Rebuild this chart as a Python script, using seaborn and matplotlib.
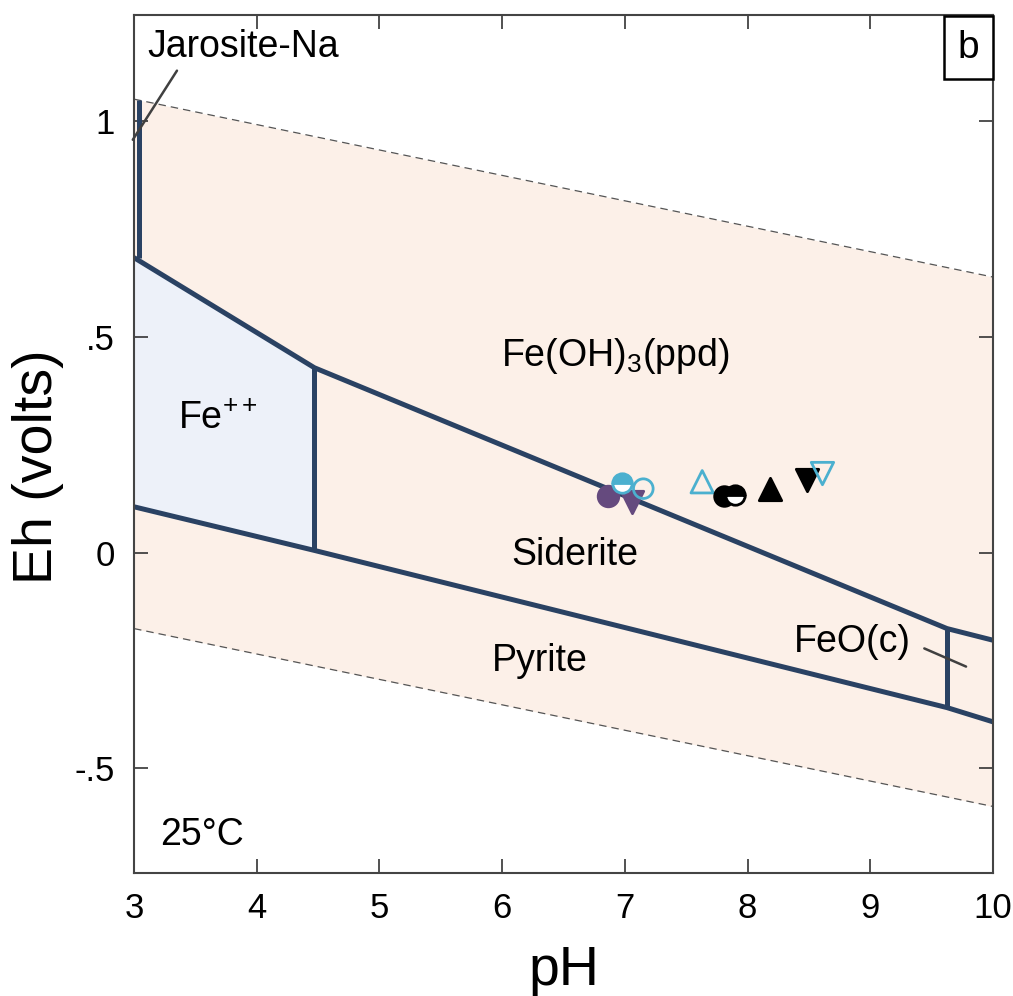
import numpy as np
import pandas as pd
import matplotlib
matplotlib.use("Agg")
import matplotlib.pyplot as plt
import seaborn as sns

# ---- water stability limits (Eh at pH 3 and pH 10) ----
water_ph = [3.0, 10.0]
water_upper = [1.050, 0.638]
water_lower = [-0.176, -0.588]

# ---- stability-field boundaries (pH, Eh) ----
jarosite_ph = [3.04, 3.04]
jarosite_eh = [1.049, 0.683]
feiii_upper_ph = [3.0, 4.47, 9.625, 10.0]
feiii_upper_eh = [0.683, 0.428, -0.176, -0.203]
fe2_sid_ph = [4.47, 4.47]
fe2_sid_eh = [0.428, 0.005]
pyrite_ph = [3.0, 4.47, 9.625, 10.0]
pyrite_eh = [0.106, 0.005, -0.359, -0.392]
sid_feo_ph = [9.625, 9.625]
sid_feo_eh = [-0.176, -0.359]

# ---- Fe++ field outline ----
fe2_field_ph = [3.0, 4.47, 4.47, 3.0]
fe2_field_eh = [0.683, 0.428, 0.005, 0.106]

# ---- measured samples ----
samp_ph = [6.86, 7.06, 7.15, 7.63, 7.81, 8.18, 8.48, 8.61]
samp_eh = [0.130, 0.118, 0.148, 0.164, 0.130, 0.148, 0.169, 0.183]
samp_kind = ["purple_circle", "purple_down", "cyan_open_circle", "cyan_open_up",
             "black_circle", "black_up", "black_down", "cyan_open_down"]
half_ph = [6.98, 7.90]
half_eh = [0.162, 0.134]
half_color = ["#4bb0cf", "black"]

CYAN = "#4bb0cf"
PURPLE = "#654a7e"
NAVY = "#2a4263"

sns.set_theme(style="ticks")
plt.rcParams["font.family"] = ["Liberation Sans", "DejaVu Sans"]
plt.rcParams["mathtext.fontset"] = "custom"
plt.rcParams["mathtext.rm"] = "Liberation Sans"
plt.rcParams["mathtext.it"] = "Liberation Sans:italic"
plt.rcParams["text.color"] = "black"
plt.rcParams["axes.labelcolor"] = "black"
plt.rcParams["xtick.labelcolor"] = "black"
plt.rcParams["ytick.labelcolor"] = "black"

fig = plt.figure(figsize=(10.13, 9.96), dpi=100)
ax = fig.add_axes([0.1323, 0.1235, 0.848, 0.8615])

# water stability band
ax.fill_between(water_ph, water_lower, water_upper, color="#fcf0e8", lw=0, zorder=0)
ax.plot(water_ph, water_upper, color="#555555", lw=0.9, ls=(0, (6, 4)), zorder=1)
ax.plot(water_ph, water_lower, color="#555555", lw=0.9, ls=(0, (6, 4)), zorder=1)

# Fe++ field
ax.fill(fe2_field_ph, fe2_field_eh, color="#edf1f9", lw=0, zorder=0.5)

# boundaries
for xs, ys in [(jarosite_ph, jarosite_eh), (feiii_upper_ph, feiii_upper_eh),
               (fe2_sid_ph, fe2_sid_eh), (pyrite_ph, pyrite_eh), (sid_feo_ph, sid_feo_eh)]:
    ax.plot(xs, ys, color=NAVY, lw=3.6, solid_capstyle="butt", solid_joinstyle="round", zorder=2)

# samples
df = pd.DataFrame({"pH": samp_ph, "Eh": samp_eh, "kind": samp_kind})
styles = {
    "purple_circle": dict(marker="o", fc=PURPLE, ec=PURPLE, s=220),
    "purple_down": dict(marker="v", fc=PURPLE, ec=PURPLE, s=260),
    "cyan_open_circle": dict(marker="o", fc="none", ec=CYAN, s=200),
    "cyan_open_up": dict(marker="^", fc="none", ec=CYAN, s=260),
    "black_circle": dict(marker="o", fc="black", ec="black", s=200),
    "black_up": dict(marker="^", fc="black", ec="black", s=260),
    "black_down": dict(marker="v", fc="black", ec="black", s=260),
    "cyan_open_down": dict(marker="v", fc="none", ec=CYAN, s=260),
}
for kind, st in styles.items():
    sub = df[df["kind"] == kind]
    sns.scatterplot(data=sub, x="pH", y="Eh", ax=ax, marker=st["marker"], s=st["s"],
                    facecolor=st["fc"], edgecolor=st["ec"], linewidth=2, zorder=4, legend=False)
for x, y, c in zip(half_ph, half_eh, half_color):
    ax.plot([x], [y], marker="o", ms=14, fillstyle="top", markerfacecolor=c,
            markerfacecoloralt="white", markeredgecolor=c, mew=2, ls="none", zorder=5)

# labels
fs = 27
ax.text(6.92, 0.455, "Fe(OH)$_3$(ppd)", fontsize=fs, ha="center", va="center", zorder=6)
ax.text(3.68, 0.31, "Fe$^{++}$", fontsize=fs, ha="center", va="center", zorder=6)
ax.text(6.59, -0.005, "Siderite", fontsize=fs, ha="center", va="center", zorder=6)
ax.text(6.31, -0.252, "Pyrite", fontsize=fs, ha="center", va="center", zorder=6)
ax.text(8.85, -0.208, "FeO(c)", fontsize=fs, ha="center", va="center", zorder=6)
ax.text(3.89, 1.17, "Jarosite-Na", fontsize=fs, ha="center", va="center", zorder=6)
ax.text(3.55, -0.653, "25°C", fontsize=fs, ha="center", va="center", zorder=6)
ax.plot([3.35, 2.99], [1.116, 0.956], color="#404040", lw=1.8, clip_on=False, zorder=6)
ax.plot([9.44, 9.78], [-0.222, -0.264], color="#404040", lw=1.8, zorder=6)
ax.text(0.9715, 0.962, "b", transform=ax.transAxes, fontsize=28, ha="center", va="center",
        bbox=dict(boxstyle="square,pad=0.35", fc="white", ec="black", lw=1.8), zorder=7)

ax.set_xlim(3, 10)
ax.set_ylim(-0.742, 1.245)
ax.set_xticks([3, 4, 5, 6, 7, 8, 9, 10])
ax.set_yticks([-0.5, 0, 0.5, 1])
ax.set_yticklabels(["-.5", "0", ".5", "1"])
for lab in ax.get_xticklabels() + ax.get_yticklabels():
    lab.set_fontsize(25)
    lab.set_color("black")
ax.tick_params(direction="in", length=10, width=1.2, color="#333333",
               top=True, right=True, pad=14)
for sp in ax.spines.values():
    sp.set_color("#444444")
    sp.set_linewidth(1.5)
ax.set_xlabel("pH", fontsize=40, labelpad=14)
ax.set_ylabel("Eh (volts)", fontsize=40)
ax.yaxis.set_label_coords(-0.082, 0.473)

fig.savefig("out.png", dpi=100)
